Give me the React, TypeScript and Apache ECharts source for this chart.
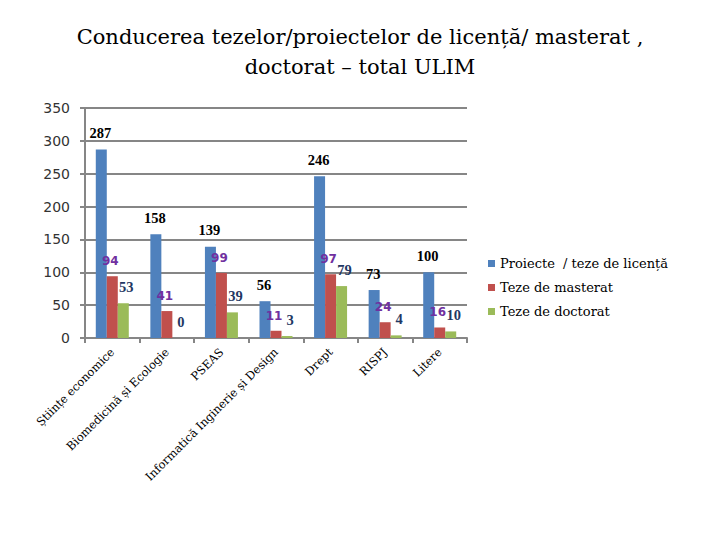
import React, { useEffect, useRef } from "react";
import * as echarts from "echarts";

const categories = [
  "Științe economice",
  "Biomedicină și Ecologie",
  "PSEAS",
  "Informatică Inginerie și Design",
  "Drept",
  "RISPJ",
  "Litere",
];
const seriesNames = ["Proiecte  / teze de licență", "Teze de masterat", "Teze de doctorat"];
const proiecte = [287, 158, 139, 56, 246, 73, 100];
const masterat = [94, 41, 99, 11, 97, 24, 16];
const doctorat = [53, 0, 39, 3, 79, 4, 10];
const yTicks = { min: 0, max: 350, interval: 50 };

const SERIF = "'DejaVu Serif', 'Liberation Serif', serif";
const TIMES = "'Liberation Serif', 'Times New Roman', serif";
const SANS = "'DejaVu Sans', Verdana, sans-serif";

export default function App() {
  const ref = useRef<HTMLDivElement>(null);
  useEffect(() => {
    if (!ref.current) return;
    const chart = echarts.init(ref.current, undefined, { renderer: "svg" });
    chart.setOption({
      animation: false,
      backgroundColor: "#ffffff",
      title: {
        text: "Conducerea tezelor/proiectelor de licență/ masterat ,\ndoctorat – total ULIM",
        left: "center",
        top: 17,
        textStyle: {
          fontFamily: SERIF,
          fontSize: 21,
          fontWeight: "normal",
          color: "#000",
          lineHeight: 30,
          align: "center",
        },
      },
      legend: {
        orient: "vertical",
        left: 483,
        top: 252,
        itemWidth: 7,
        itemHeight: 7,
        itemGap: 11,
        icon: "rect",
        textStyle: { fontFamily: SERIF, fontSize: 13, color: "#000" },
        data: seriesNames,
      },
      grid: { left: 85, right: 253, top: 108, bottom: 202 },
      xAxis: {
        type: "category",
        data: categories,
        axisLine: { lineStyle: { color: "#868686", width: 2 } },
        axisTick: { show: true, length: 5, lineStyle: { color: "#868686", width: 2 } },
        axisLabel: {
          rotate: 45,
          interval: 0,
          margin: 12,
          fontFamily: SERIF,
          fontSize: 11.5,
          color: "#000",
        },
      },
      yAxis: {
        type: "value",
        min: yTicks.min,
        max: yTicks.max,
        interval: yTicks.interval,
        axisLine: { show: true, lineStyle: { color: "#868686", width: 2 } },
        axisTick: { show: true, length: 5, lineStyle: { color: "#868686", width: 2 } },
        splitLine: { lineStyle: { color: "#868686", width: 2 } },
        axisLabel: { fontFamily: SANS, fontSize: 14, color: "#333", margin: 15 },
      },
      series: [
        {
          name: seriesNames[0],
          type: "bar",
          data: proiecte,
          barWidth: 11,
          barGap: "0%",
          itemStyle: { color: "#4F81BD" },
          label: {
            show: true,
            position: "top",
            distance: 9,
            offset: [-1, 0],
            fontFamily: TIMES,
            fontSize: 14.5,
            fontWeight: "bold",
            color: "#000",
          },
        },
        {
          name: seriesNames[1],
          type: "bar",
          data: masterat,
          barWidth: 11,
          barGap: "0%",
          itemStyle: { color: "#C0504D" },
          label: {
            show: true,
            position: "top",
            distance: 9,
            offset: [-2, 0],
            fontFamily: SANS,
            fontSize: 12,
            fontWeight: "bold",
            color: "#7030A0",
          },
        },
        {
          name: seriesNames[2],
          type: "bar",
          data: doctorat,
          barWidth: 11,
          barGap: "0%",
          itemStyle: { color: "#9BBB59" },
          label: {
            show: true,
            position: "top",
            distance: 9,
            offset: [3, 0],
            fontFamily: TIMES,
            fontSize: 14.5,
            fontWeight: "bold",
            color: "#1F3864",
          },
        },
      ],
    });
    return () => chart.dispose();
  }, []);
  return (
    <div
      ref={ref}
      style={{ position: "fixed", left: 0, top: 0, width: 720, height: 540 }}
    />
  );
}
